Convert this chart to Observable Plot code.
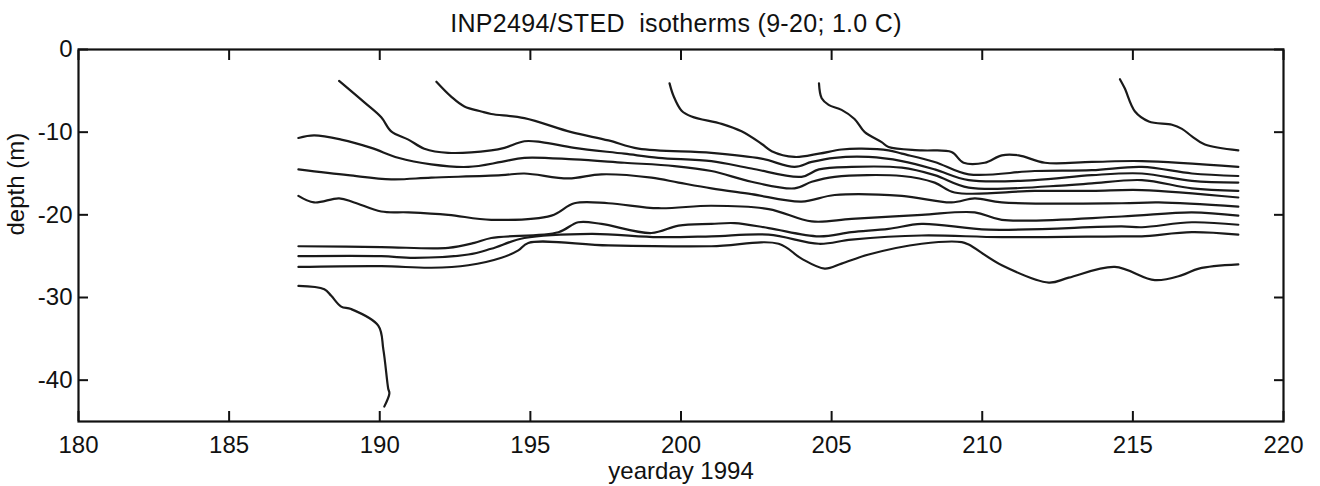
<!DOCTYPE html>
<html><head><meta charset="utf-8">
<script src="https://cdn.jsdelivr.net/npm/d3@7"></script>
<script src="https://cdn.jsdelivr.net/npm/@observablehq/plot@0.6"></script>
<style>
body{margin:0;background:#fff;width:1320px;height:486px;overflow:hidden;font-family:"Liberation Sans",Arial,sans-serif;}
#title{height:30px;line-height:30px;position:relative;top:8px;font-size:25px;letter-spacing:0.3px;text-align:center;padding-left:32px;box-sizing:border-box;color:#111;white-space:pre;}
#chart svg{display:block;overflow:visible;}
</style></head><body>
<div id="title">INP2494/STED  isotherms (9-20; 1.0 C)</div>
<div id="chart"></div>
<script>
// Isotherm depths [yearday, depth m]
const iso20 = [[214.57,-3.6],[214.73,-4.7],[215.07,-7.5],[215.53,-8.7],[216.30,-9.1],[216.63,-9.6],[216.96,-10.5],[217.39,-11.5],[218.5,-12.2]];
const iso19 = [[204.58,-4.1],[204.67,-5.9],[204.90,-6.7],[205.33,-7.3],[205.76,-8.4],[206.10,-10.0],[206.66,-11.2],[206.89,-11.8],[207.99,-12.2],[208.98,-12.4],[209.38,-13.7],[210.08,-13.7],[210.65,-12.8],[211.21,-12.8],[212.08,-13.7],[213.64,-13.6],[215.30,-13.5],[218.5,-14.2]];
const iso18 = [[199.62,-4.1],[199.75,-5.6],[200.02,-7.4],[200.35,-8.1],[201.35,-9.0],[202.01,-9.9],[202.67,-11.4],[203.01,-12.3],[203.77,-13.0],[204.58,-12.6],[205.33,-12.1],[206.00,-12.0],[206.89,-12.2],[207.33,-12.6],[208.42,-13.6],[209.55,-15.1],[211.74,-14.7],[213.64,-14.6],[215.30,-14.2],[216.96,-15.0],[218.5,-15.3]];
const iso17 = [[191.88,-3.9],[192.37,-5.7],[192.81,-6.9],[193.37,-7.5],[193.70,-7.8],[194.80,-8.3],[196.36,-10.0],[197.59,-11.0],[198.59,-12.0],[201.01,-12.5],[202.67,-13.2],[203.77,-14.2],[204.34,-13.6],[205.10,-13.1],[206.23,-13.0],[207.33,-13.5],[208.42,-14.5],[209.55,-15.8],[211.74,-15.8],[213.64,-15.2],[215.30,-15.0],[216.96,-15.9],[218.5,-16.1]];
const iso16 = [[188.65,-3.8],[189.49,-6.4],[190.05,-8.2],[190.38,-9.9],[190.95,-10.9],[191.48,-12.0],[192.27,-12.5],[193.70,-12.2],[194.14,-11.9],[194.80,-11.1],[195.37,-11.2],[196.46,-11.9],[198.12,-12.6],[199.25,-13.1],[201.01,-13.5],[202.34,-14.4],[204.00,-15.4],[204.58,-14.5],[205.66,-14.2],[207.33,-14.3],[208.42,-15.2],[209.55,-16.7],[212.87,-16.4],[213.64,-16.2],[215.30,-15.8],[216.96,-16.8],[218.5,-17.1]];
const iso15 = [[187.3,-10.7],[187.82,-10.4],[188.72,-10.9],[189.72,-11.9],[190.61,-13.1],[191.71,-13.9],[192.94,-14.2],[194.04,-13.6],[194.80,-13.1],[196.46,-13.3],[198.12,-13.7],[199.78,-14.1],[201.01,-14.7],[202.34,-16.0],[203.77,-16.8],[204.34,-16.0],[205.10,-15.4],[207.33,-15.3],[208.42,-16.1],[209.08,-17.3],[211.74,-17.1],[213.64,-17.1],[215.30,-17.0],[218.5,-17.9]];
const iso14 = [[187.3,-14.5],[188.95,-15.2],[190.38,-15.7],[191.71,-15.5],[194.04,-15.2],[194.80,-15.0],[196.26,-15.6],[197.36,-15.1],[199.02,-15.5],[199.92,-16.1],[201.01,-16.8],[202.34,-17.5],[204.00,-18.4],[205.10,-17.6],[207.33,-17.7],[208.98,-18.5],[209.75,-18.0],[210.65,-18.5],[214.63,-18.6],[215.86,-18.5],[218.5,-19.0]];
const iso13 = [[187.3,-17.7],[187.82,-18.5],[188.65,-18.0],[189.15,-18.5],[190.05,-19.6],[190.95,-19.7],[192.27,-20.0],[193.70,-20.6],[195.70,-20.1],[196.46,-18.6],[197.59,-18.6],[199.25,-19.2],[201.01,-18.9],[202.91,-19.3],[204.34,-20.8],[205.66,-20.5],[207.99,-20.0],[209.75,-19.7],[210.65,-20.6],[214.63,-20.2],[216.96,-19.7],[218.5,-20.1]];
const iso12 = [[187.3,-23.8],[190.05,-23.9],[192.27,-24.0],[193.14,-23.4],[193.70,-22.8],[195.93,-22.1],[196.59,-20.9],[197.36,-21.1],[199.02,-22.2],[199.92,-21.3],[201.01,-21.1],[201.78,-21.0],[202.91,-21.6],[204.58,-22.6],[205.66,-22.1],[206.89,-21.7],[207.99,-21.1],[210.22,-21.8],[214.63,-21.4],[215.30,-21.5],[216.96,-20.9],[218.5,-21.2]];
const iso11 = [[187.3,-25.0],[190.05,-25.0],[191.15,-25.2],[192.94,-24.8],[193.70,-24.1],[194.80,-22.8],[197.03,-22.3],[199.25,-22.7],[201.01,-22.6],[202.91,-22.4],[204.58,-23.5],[205.66,-23.0],[207.99,-22.5],[210.65,-22.7],[214.63,-22.6],[215.30,-22.6],[216.96,-22.1],[218.5,-22.4]];
const iso10 = [[187.3,-26.3],[190.05,-26.2],[191.71,-26.4],[192.94,-26.1],[194.04,-25.2],[194.60,-24.3],[194.93,-23.4],[197.59,-23.7],[201.01,-23.8],[203.24,-23.5],[204.00,-25.3],[204.77,-26.5],[205.33,-25.9],[206.23,-24.8],[207.99,-23.5],[209.32,-23.3],[209.55,-23.6],[210.65,-26.1],[212.21,-28.2],[212.87,-27.6],[214.40,-26.3],[215.73,-27.9],[216.63,-27.3],[217.19,-26.5],[218.5,-26.0]];
const iso09 = [[187.3,-28.6],[188.16,-29.0],[188.39,-29.8],[188.72,-31.1],[189.05,-31.4],[189.95,-33.4],[190.12,-36.3],[190.28,-41.0],[190.32,-41.6],[190.15,-43.2]];

const isotherms = {9: iso09, 10: iso10, 11: iso11, 12: iso12, 13: iso13, 14: iso14, 15: iso15, 16: iso16, 17: iso17, 18: iso18, 19: iso19, 20: iso20};

const xTicks = [180, 185, 190, 195, 200, 205, 210, 215, 220];
const yTicks = [0, -10, -20, -30, -40];
const xLabel = "yearday 1994";
const yLabel = "depth (m)";

const data = Object.entries(isotherms).flatMap(([t, pts]) => pts.map(([day, depth]) => ({t: +t, day, depth})));

const tickOpts = {tickSize: -10, tickFormat: () => "", label: null, strokeWidth: 2, stroke: "#111"};
const labelOpts = {tickSize: 0, fontSize: 24, label: null, tickFormat: d => String(d), fill: "#111"};

const chart = Plot.plot({
  width: 1320,
  height: 456,
  marginTop: 19,
  marginBottom: 65,
  marginLeft: 78,
  marginRight: 37,
  style: {fontFamily: "'Liberation Sans', Arial, sans-serif", background: "#fff", color: "#111", overflow: "visible"},
  x: {domain: [180, 220]},
  y: {domain: [-45, 0]},
  marks: [
    Plot.line(data, {x: "day", y: "depth", z: "t", stroke: "#1a1a1a", strokeWidth: 2.2, curve: "catmull-rom"}),
    Plot.frame({stroke: "#111", strokeWidth: 2.2}),
    Plot.axisX(xTicks, {anchor: "bottom", ...tickOpts}),
    Plot.axisX(xTicks, {anchor: "top", ...tickOpts}),
    Plot.axisY(yTicks, {anchor: "left", ...tickOpts}),
    Plot.axisY(yTicks, {anchor: "right", ...tickOpts}),
    Plot.axisX(xTicks, {anchor: "bottom", tickPadding: 14, ...labelOpts}),
    Plot.axisY(yTicks, {anchor: "left", tickPadding: 6, ...labelOpts}),
    Plot.text([xLabel], {text: d => d, frameAnchor: "bottom", lineAnchor: "bottom", dy: 57, fontSize: 24, fill: "#111"}),
    Plot.text([yLabel], {text: d => d, frameAnchor: "left", rotate: -90, dx: -62, fontSize: 24, fill: "#111"})
  ]
});
document.getElementById("chart").appendChild(chart);
</script>
</body></html>
